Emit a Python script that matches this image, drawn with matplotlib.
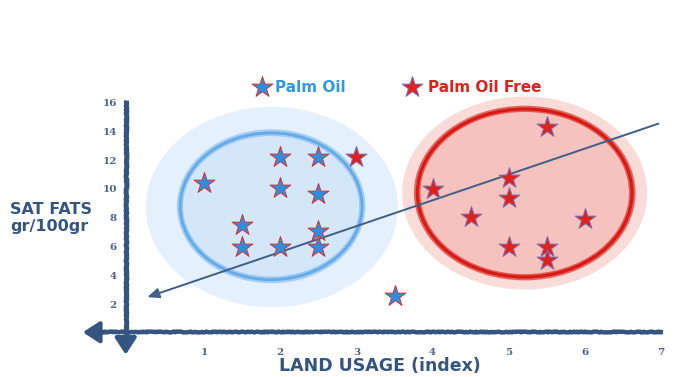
import matplotlib
matplotlib.use("Agg")
import matplotlib.pyplot as plt
from matplotlib.patches import Ellipse

# data
palm_x = [1.0, 1.5, 1.5, 2.0, 2.0, 2.0, 2.5, 2.5, 2.5, 2.5, 3.5]
palm_y = [10.4, 7.5, 6.0, 12.2, 10.1, 6.0, 12.2, 9.65, 7.1, 6.0, 2.6]
free_x = [3.0, 4.0, 4.5, 5.0, 5.0, 5.0, 5.5, 5.5, 5.5, 6.0]
free_y = [12.2, 10.0, 8.05, 10.75, 9.4, 6.0, 14.3, 6.0, 5.1, 7.9]
trend_start = (7.0, 14.6)
trend_end = (0.22, 2.43)
x_ticks = [1, 2, 3, 4, 5, 6, 7]
y_ticks = [2, 4, 6, 8, 10, 12, 14, 16]

INK = "#34557f"
BLUE = "#2b8fe0"
RED = "#e0201b"

fig = plt.figure(figsize=(6.8, 3.77), dpi=100)
ax = fig.add_axes([128 / 680, 1 - 333 / 377, (661 - 128) / 680, 230.4 / 377])
ax.set_xlim(0, 7)
ax.set_ylim(0, 16)
for s in ax.spines.values():
    s.set_visible(False)

# cluster blobs
ax.add_patch(Ellipse((1.89, 8.75), 3.31, 13.9, facecolor="#e4f0fb", edgecolor="none", zorder=1, clip_on=False))
ax.add_patch(Ellipse((1.88, 8.8), 2.39, 10.2, facecolor="#d3e7f9", edgecolor="none", zorder=2, clip_on=False))
for dw, dh, a in [(0, 0, 0.9), (0.05, 0.3, 0.45), (-0.04, -0.25, 0.45)]:
    ax.add_patch(Ellipse((1.88, 8.8), 2.39 + dw, 10.2 + dh, facecolor="none", edgecolor="#5aa6e8",
                         lw=2.0, alpha=a, zorder=3, clip_on=False))
ax.add_patch(Ellipse((5.21, 9.72), 3.22, 13.4, facecolor="#f9dcd8", edgecolor="none", zorder=1, clip_on=False))
ax.add_patch(Ellipse((5.21, 9.72), 2.82, 11.67, facecolor="#f6c2bd", edgecolor="none", zorder=2, clip_on=False))
for dw, dh, a in [(0, 0, 0.95), (0.05, 0.25, 0.6), (-0.04, -0.2, 0.6)]:
    ax.add_patch(Ellipse((5.21, 9.72), 2.82 + dw, 11.67 + dh, facecolor="none", edgecolor="#d8150f",
                         lw=2.2, alpha=a, zorder=3, clip_on=False))

# axes drawn as rough arrows
xl, = ax.plot([-0.45, 7.03], [0.05, 0.05], color=INK, lw=3.2, zorder=4, clip_on=False, solid_capstyle="butt")
yl, = ax.plot([-0.03, -0.03], [16.2, -1.0], color=INK, lw=3.6, zorder=4, clip_on=False, solid_capstyle="butt")
for ln in (xl, yl):
    ln.set_sketch_params(scale=0.4, length=4, randomness=6)
ax.annotate("", xy=(-0.63, 0.05), xytext=(-0.25, 0.05),
            arrowprops=dict(arrowstyle="-|>,head_length=1.0,head_width=0.65", color=INK, lw=3),
            annotation_clip=False, zorder=4)
ax.annotate("", xy=(-0.03, -1.7), xytext=(-0.03, -0.5),
            arrowprops=dict(arrowstyle="-|>,head_length=1.0,head_width=0.65", color=INK, lw=3),
            annotation_clip=False, zorder=4)

# trend arrow
ax.annotate("", xy=trend_end, xytext=trend_start,
            arrowprops=dict(arrowstyle="-|>,head_length=0.7,head_width=0.3", color="#3d5f8a", lw=1.4),
            annotation_clip=False, zorder=5)

# stars
ax.scatter(palm_x, palm_y, marker="*", s=250, facecolor=BLUE, edgecolor="#d9302c", linewidths=0.7,
           zorder=6, clip_on=False)
ax.scatter(free_x, free_y, marker="*", s=250, facecolor=RED, edgecolor="#7a70b5", linewidths=0.7,
           zorder=6, clip_on=False)

# ticks
ax.set_xticks(x_ticks)
ax.set_xticklabels([str(t) for t in x_ticks])
ax.set_yticks(y_ticks)
ax.set_yticklabels([str(t) for t in y_ticks])
ax.tick_params(length=0, labelsize=7.5, labelcolor="#4a6488")
ax.tick_params(axis="x", pad=11)
ax.tick_params(axis="y", pad=8)
for lab in ax.get_xticklabels() + ax.get_yticklabels():
    lab.set_family("DejaVu Serif")
    lab.set_fontweight("bold")

# labels
fig.text(10 / 680, 1 - 218 / 377, "SAT FATS\ngr/100gr", color=INK, fontsize=11.5, fontweight="bold",
         ha="left", va="center", linespacing=1.1)
fig.text(380 / 680, 1 - 366 / 377, "LAND USAGE (index)", color=INK, fontsize=12.5, fontweight="bold",
         ha="center", va="center")

# legend
ax.scatter([1.76], [17.08], marker="*", s=250, facecolor=BLUE, edgecolor="#d9302c", linewidths=0.7,
           clip_on=False, zorder=6)
ax.text(1.93, 17.08, "Palm Oil", color="#2f9ae0", fontsize=11, fontweight="bold", va="center", ha="left")
ax.scatter([3.73], [17.08], marker="*", s=250, facecolor=RED, edgecolor="#7a70b5", linewidths=0.7,
           clip_on=False, zorder=6)
ax.text(3.94, 17.08, "Palm Oil Free", color=RED, fontsize=11, fontweight="bold", va="center", ha="left")

fig.savefig("out.png", dpi=100)
